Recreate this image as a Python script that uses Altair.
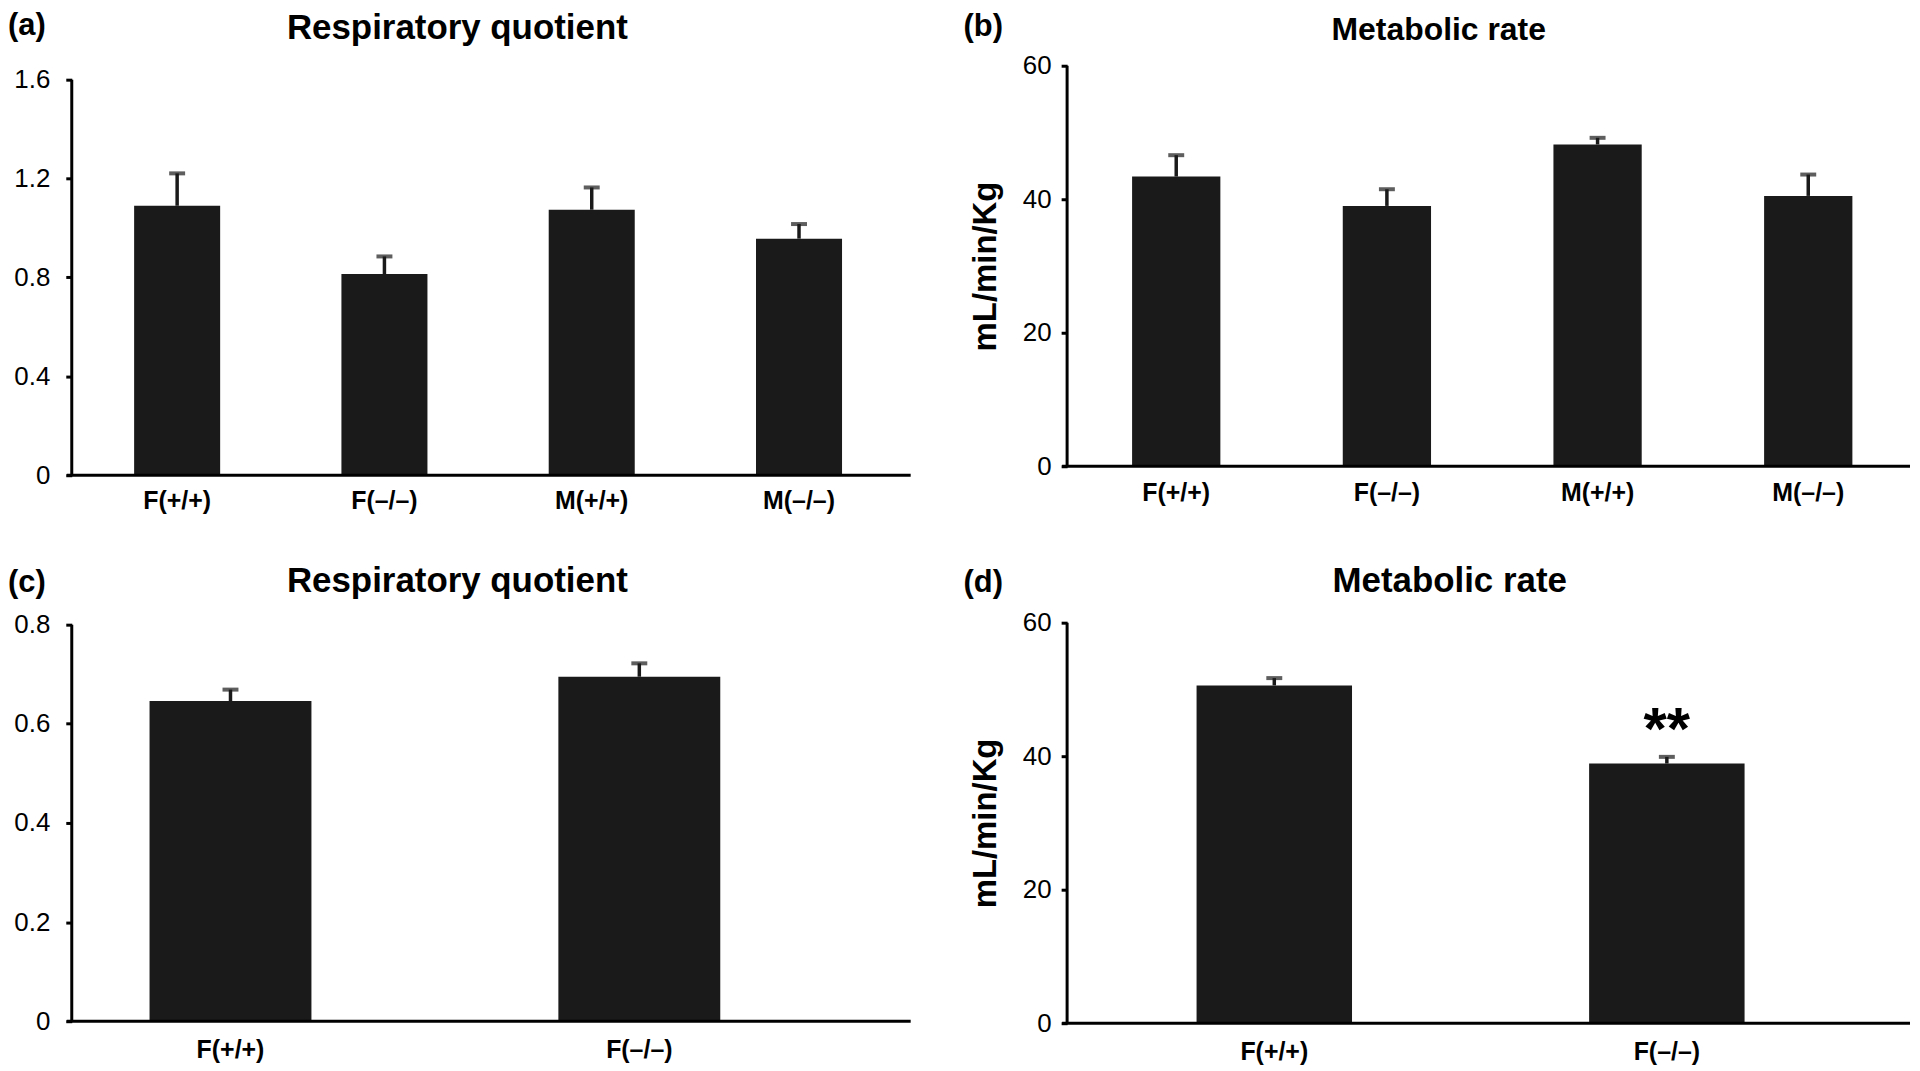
import altair as alt
import pandas as pd

# ---------------- data ----------------
cats_ab = ["F(+/+)", "F(–/–)", "M(+/+)", "M(–/–)"]
cats_cd = ["F(+/+)", "F(–/–)"]

rq_a_mean = [1.090, 0.814, 1.074, 0.957]
rq_a_err = [0.131, 0.071, 0.090, 0.059]

mr_b_mean = [43.4, 39.0, 48.2, 40.5]
mr_b_err = [3.2, 2.5, 1.0, 3.2]

rq_c_mean = [0.646, 0.695]
rq_c_err = [0.023, 0.027]

mr_d_mean = [50.6, 38.9]
mr_d_err = [1.1, 1.0]
sig_d = ["", "**"]

FONT = "Liberation Sans"
BAR = "#1a1a1a"


def panel(cats, means, errs, sig, yticks, ydomain, yfmt, width, height,
          pin, pout, palign, xlab_pad, ylab_pad, ytitle,
          letter, letter_xy, title, title_xy, title_fs):
    df = pd.DataFrame({
        "cat": cats,
        "mean": means,
        "upper": [m + e for m, e in zip(means, errs)],
        "sig": sig,
    })
    axis_df = pd.DataFrame({"lo": [0.0], "hi": [yticks[-1]]})

    xaxis = alt.Axis(title=None, labelAngle=0, domain=False, ticks=False,
                     labelPadding=xlab_pad, labelFontSize=25,
                     labelFontWeight="bold", labelColor="black", labelFont=FONT)
    xenc = alt.X("cat:N", sort=cats,
                 scale=alt.Scale(paddingInner=pin, paddingOuter=pout, align=palign),
                 axis=xaxis)
    yscale = alt.Scale(domain=ydomain, nice=False, zero=False)
    yaxis_kw = dict(values=yticks, format=yfmt, domain=False, grid=False, tickSize=6,
                    tickWidth=3, tickColor="black", labelFontSize=26,
                    labelPadding=ylab_pad, labelColor="black", labelFont=FONT)
    if ytitle:
        yaxis_kw.update(title=ytitle, titleFontSize=33, titleFontWeight="bold",
                        titleFont=FONT, titleColor="black", titleX=-82,
                        titleY=201, titleAlign="center", titleBaseline="middle")
    else:
        yaxis_kw.update(title=None)
    yaxis = alt.Axis(**yaxis_kw)

    def Y(field):
        return alt.Y(field, scale=yscale, axis=yaxis)

    base = alt.Chart(df)
    bars = base.mark_bar(color=BAR).encode(x=xenc, y=Y("mean:Q"), y2=alt.Y2(datum=0))
    stem = base.mark_rule(color=BAR, strokeWidth=3.5).encode(
        x=xenc, y=Y("mean:Q"), y2="upper:Q")
    cap = base.mark_tick(color=BAR, orient="horizontal", size=16, thickness=4).encode(
        x=xenc, y=Y("upper:Q"))
    star = base.mark_text(font=FONT, fontSize=60, fontWeight="bold", baseline="alphabetic",
                          align="center", dy=-8, color="black").encode(
        x=xenc, y=Y("upper:Q"), text="sig:N")

    ax = alt.Chart(axis_df)
    yline = ax.mark_rule(color="black", strokeWidth=3).encode(
        x=alt.value(0), y=Y("lo:Q"), y2="hi:Q")
    xline = ax.mark_rule(color="black", strokeWidth=3).encode(
        x=alt.value(-5), x2=alt.value(width), y=Y("lo:Q"))

    let = alt.Chart(pd.DataFrame({"t": [letter]})).mark_text(
        font=FONT, fontSize=31, fontWeight="bold", align="left",
        baseline="alphabetic", color="black").encode(
        x=alt.value(letter_xy[0]), y=alt.value(letter_xy[1]), text="t:N")
    tit = alt.Chart(pd.DataFrame({"t": [title]})).mark_text(
        font=FONT, fontSize=title_fs, fontWeight="bold", align="center",
        baseline="alphabetic", color="black").encode(
        x=alt.value(title_xy[0]), y=alt.value(title_xy[1]), text="t:N")

    return alt.layer(bars, stem, cap, star, yline, xline, let, tit).properties(
        width=width, height=height)


pa = panel(cats_ab, rq_a_mean, rq_a_err, ["", "", "", ""],
           [0, 0.4, 0.8, 1.2, 1.6], [0, 1.6564], ".1~f", 842, 411,
           0.585, 0.316, 0.476, 13, 16, None,
           "(a)", (-64, -31), "Respiratory quotient", (387, -27), 35)
pb = panel(cats_ab, mr_b_mean, mr_b_err, ["", "", "", ""],
           [0, 20, 40, 60], [-1.343, 60], "d", 846, 411,
           0.581, 0.291, 0.53, 5, 10, "mL/min/Kg",
           "(b)", (-104, -30), "Metabolic rate", (373, -26), 32)
pc = panel(cats_cd, rq_c_mean, rq_c_err, ["", ""],
           [0, 0.2, 0.4, 0.6, 0.8], [-0.00402, 0.80402], ".1~f", 842, 402,
           0.604, 0.328, 0.29, 14, 16, None,
           "(c)", (-64, -31), "Respiratory quotient", (387, -31), 35)
pd_ = panel(cats_cd, mr_d_mean, mr_d_err, sig_d,
            [0, 20, 40, 60], [0, 60], "d", 846, 402,
            0.604, 0.3756, 0.439, 16, 10, "mL/min/Kg",
            "(d)", (-104, -31), "Metabolic rate", (384, -31), 35)

chart = alt.concat(pa, pb, pc, pd_, columns=2,
                   spacing=alt.RowColnumber(row=148, column=157),
                   bounds="flush", align="each").properties(
    padding=0, background="white"
).configure(
    font=FONT,
    view=alt.ViewConfig(stroke="transparent", strokeWidth=0),
)

chart.save("out.html", embed_options={"renderer": "svg", "actions": False})
